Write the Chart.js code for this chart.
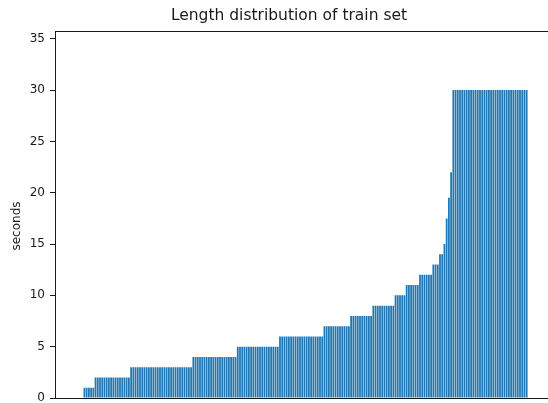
<!DOCTYPE html>
<html>
<head>
<meta charset="utf-8">
<script src="https://cdn.jsdelivr.net/npm/chart.js@4/dist/chart.umd.min.js"></script>
<style>
  html, body { margin: 0; padding: 0; overflow: hidden; background: #fff; width: 548px; height: 403px; }
  canvas { display: block; }
</style>
</head>
<body>
<canvas id="c" width="578" height="403"></canvas>
<script>
// Sorted clip lengths (seconds), one value per bar
const durations = [
  1, 1, 1, 1, 1,
  2, 2, 2, 2, 2, 2, 2, 2, 2, 2, 2, 2, 2, 2, 2, 2,
  3, 3, 3, 3, 3, 3, 3, 3, 3, 3, 3, 3, 3, 3, 3, 3, 3, 3, 3, 3, 3, 3, 3, 3, 3, 3, 3, 3,
  4, 4, 4, 4, 4, 4, 4, 4, 4, 4, 4, 4, 4, 4, 4, 4, 4, 4, 4, 4,
  5, 5, 5, 5, 5, 5, 5, 5, 5, 5, 5, 5, 5, 5, 5, 5, 5, 5, 5,
  6, 6, 6, 6, 6, 6, 6, 6, 6, 6, 6, 6, 6, 6, 6, 6, 6, 6, 6, 6,
  7, 7, 7, 7, 7, 7, 7, 7, 7, 7, 7, 7,
  8, 8, 8, 8, 8, 8, 8, 8, 8, 8,
  9, 9, 9, 9, 9, 9, 9, 9, 9, 9,
  10, 10, 10, 10, 10,
  11, 11, 11, 11, 11, 11,
  12, 12, 12, 12, 12, 12,
  13, 13, 13,
  14, 14,
  15, 17.5, 19.5, 22,
  30, 30, 30, 30, 30, 30, 30, 30, 30, 30, 30, 30, 30, 30, 30, 30, 30,
  30, 30, 30, 30, 30, 30, 30, 30, 30, 30, 30, 30, 30, 30, 30, 30, 30
];
const yTicks = [0, 5, 10, 15, 20, 25, 30, 35];
const titleText = 'Length distribution of train set';
const yTitle = 'seconds';

const points = durations.map((v, i) => ({ x: i, y: v }));

const framePlugin = {
  id: 'frame',
  afterDraw(chart) {
    const a = chart.chartArea, ctx = chart.ctx;
    ctx.save();
    ctx.strokeStyle = '#1a1a1a';
    ctx.lineWidth = 1;
    ctx.strokeRect(Math.round(a.left) - 0.5, Math.round(a.top) - 0.5,
                   Math.round(a.right - a.left) + 1, Math.round(a.bottom - a.top) + 1);
    // y-axis label, placed as in the reference
    ctx.translate(17, 226);
    ctx.rotate(-Math.PI / 2);
    ctx.fillStyle = '#1a1a1a';
    ctx.font = '12px "DejaVu Sans"';
    ctx.textAlign = 'center';
    ctx.textBaseline = 'middle';
    ctx.fillText(yTitle, 0, 0);
    ctx.restore();
  }
};

new Chart(document.getElementById('c'), {
  type: 'bar',
  data: {
    datasets: [{
      data: points,
      backgroundColor: '#1f77b4',
      borderWidth: 0,
      barPercentage: 0.8,
      categoryPercentage: 1.0
    }]
  },
  options: {
    responsive: false,
    animation: false,
    layout: { padding: { left: 0, right: 0, top: 0, bottom: 0 } },
    plugins: {
      legend: { display: false },
      tooltip: { enabled: false },
      title: {
        display: true,
        text: titleText,
        color: '#1a1a1a',
        font: { family: 'DejaVu Sans', size: 15.5, weight: 'normal' },
        padding: { top: 7, bottom: 6 }
      }
    },
    scales: {
      x: {
        type: 'linear',
        offset: false,
        bounds: 'data',
        min: -12.8,
        max: 222.1,
        ticks: { display: false },
        grid: { display: false },
        border: { display: false },
        afterFit(axis) { axis.height = 5; axis.paddingLeft = 0; axis.paddingRight = 0; }
      },
      y: {
        min: 0,
        max: 35.7,
        afterBuildTicks(axis) { axis.ticks = yTicks.map(v => ({ value: v })); },
        ticks: {
          color: '#1a1a1a',
          font: { family: 'DejaVu Sans', size: 12 },
          padding: 5
        },
        grid: { drawOnChartArea: false, drawTicks: true, tickLength: 6, color: '#1a1a1a' },
        border: { display: false },
        title: { display: false },
        afterFit(axis) { axis.width = 56; axis.paddingTop = 0; axis.paddingBottom = 0; }
      }
    }
  },
  plugins: [framePlugin]
});
</script>
</body>
</html>
